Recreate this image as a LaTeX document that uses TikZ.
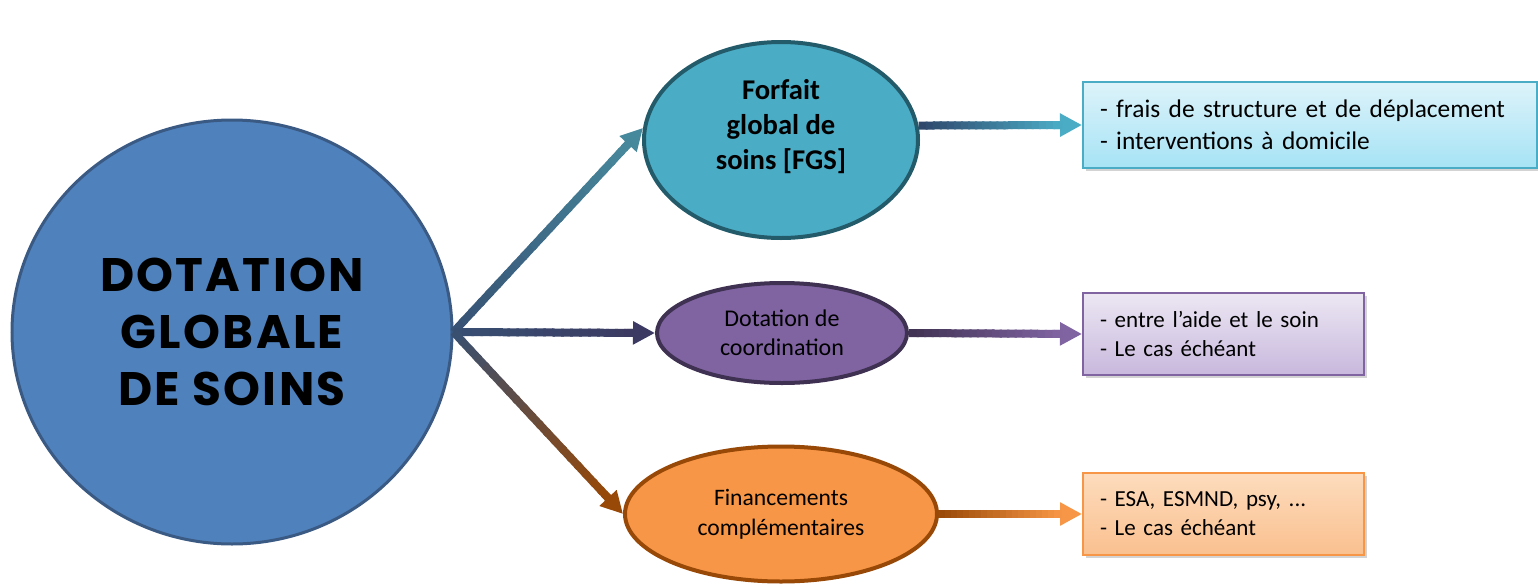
\documentclass[tikz,border=0pt]{standalone}
\usepackage{fontspec}
\setmainfont{Carlito}
\newfontfamily\titre{Poppins}[LetterSpace=5]
\usetikzlibrary{shapes.geometric,arrows.meta,calc,shadows}

\definecolor{bleuDGS}{HTML}{4F81BD}
\definecolor{bordDGS}{HTML}{3A5A84}
\definecolor{tealFGS}{HTML}{4BACC6}
\definecolor{bordFGS}{HTML}{235B6A}
\definecolor{violetDC}{HTML}{8064A2}
\definecolor{bordDC}{HTML}{3F3151}
\definecolor{orangeFC}{HTML}{F79646}
\definecolor{bordFC}{HTML}{984807}
\definecolor{cielhaut}{HTML}{DDF3FA}
\definecolor{cielbas}{HTML}{A6E3F5}
\definecolor{lilashaut}{HTML}{ECE7F3}
\definecolor{lilasbas}{HTML}{C8B8DD}
\definecolor{pechehaut}{HTML}{FDDCBD}
\definecolor{pechebas}{HTML}{FAC08F}
\definecolor{ardoise}{HTML}{375073}
\definecolor{tealgris}{HTML}{46889C}
\definecolor{marine}{HTML}{3C3A62}
\definecolor{nuit}{HTML}{2E4468}

\newcommand{\flechedegrade}[4]{%
  \coordinate (base) at ($(#2)!11pt!(#1)$);
  \draw[fleche, draw=#4] ($(#2)!14pt!(#1)$) -- (#2);
  \foreach \k in {1,...,20}{%
    \pgfmathsetmacro{\pa}{(\k-1)/20}%
    \pgfmathsetmacro{\pb}{(\k+0.3)/20}%
    \pgfmathtruncatemacro{\pc}{100-(\k-0.5)*5}%
    \draw[line width=4pt, draw=#3!\pc!#4] ($(#1)!\pa!(base)$) -- ($(#1)!\pb!(base)$);
  }%
}

\begin{document}
\begin{tikzpicture}[x=0.5pt, y=-0.5pt]
	\tikzset{bulle/.style={ellipse, inner sep=0pt, align=center, line width=2pt},
		cadre/.style={rectangle, inner xsep=8.5pt, inner ysep=0pt, align=left, line width=1pt,
			drop shadow={opacity=0.35, shadow xshift=1.5pt, shadow yshift=-1.5pt}},
		fleche/.style={line width=4pt, -{Triangle[width=11pt, length=11pt]}}};

	\useasboundingbox (0,0) rectangle (1538,584);

	\node[bulle, fill=bleuDGS, draw=bordDGS, line width=1.5pt, minimum width=220pt, minimum height=212pt,
		font=\titre\bfseries\fontsize{23.5}{28.5}\selectfont] (dgs) at ( 232, 332) {DOTATION\\GLOBALE\\DE SOINS};

	\node[bulle, fill=tealFGS,  draw=bordFGS, minimum width=137pt, minimum height=98pt, text depth=15.5pt,
		font=\bfseries\fontsize{14.3}{17.5}\selectfont] (fgs) at ( 781, 140) {Forfait\\global de\\soins [FGS]};
	\node[bulle, fill=violetDC, draw=bordDC,  minimum width=125pt, minimum height=50pt,
		font=\fontsize{12}{14.5}\selectfont] (dc)  at ( 782, 333) {Dotation de\\coordination};
	\node[bulle, fill=orangeFC, draw=bordFC,  minimum width=156pt, minimum height=67.5pt,
		font=\fontsize{11.8}{15}\selectfont] (fin) at ( 781, 514) {Financements\\complémentaires};

	\node[cadre, top color=cielhaut,  bottom color=cielbas,  draw=tealFGS,  text width=210pt,   minimum height=43pt,
		font=\fontsize{12.7}{16}\selectfont] (frb) at (1310, 125) {- frais de structure et de déplacement\\- interventions à domicile};
	\node[cadre, top color=lilashaut, bottom color=lilasbas, draw=violetDC, text width=123.5pt, minimum height=41pt,
		font=\fontsize{11.5}{14.5}\selectfont] (pb)  at (1223.5, 334) {- entre l’aide et le soin\\- Le cas échéant};
	\node[cadre, top color=pechehaut, bottom color=pechebas, draw=orangeFC, text width=123.5pt, minimum height=41pt,
		font=\fontsize{11.5}{14.5}\selectfont] (ob)  at (1223.5, 514) {- ESA, ESMND, psy, ...\\- Le cas échéant};

	\flechedegrade{dgs.east}{fgs.175}{ardoise}{tealgris}
	\flechedegrade{dgs.east}{dc.west}{ardoise}{marine}
	\flechedegrade{dgs.east}{fin.west}{ardoise}{bordFC}

	\flechedegrade{fgs.6}{frb.west}{nuit}{tealFGS}
	\flechedegrade{dc.east}{pb.west}{bordDC}{violetDC}
	\flechedegrade{fin.east}{ob.west}{bordFC}{orangeFC}

\end{tikzpicture}
\end{document}
